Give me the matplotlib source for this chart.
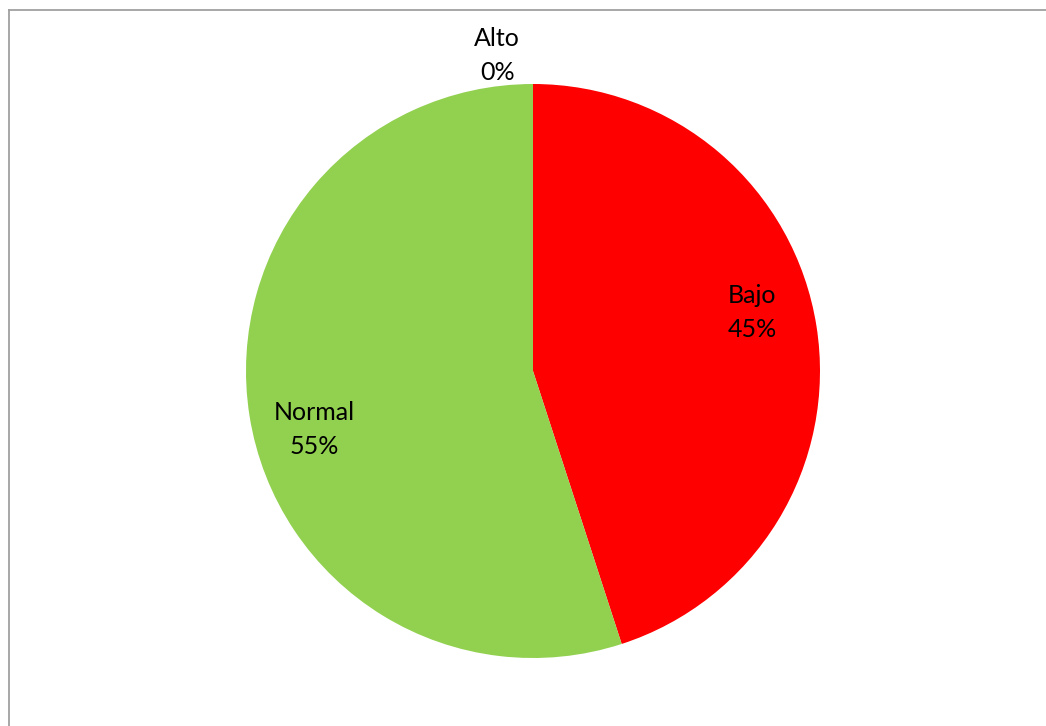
import numpy as np
import matplotlib
matplotlib.use('Agg')
from matplotlib import pyplot as plt
from matplotlib.lines import Line2D

labels = ['Bajo', 'Normal', 'Alto']
values = [45, 55, 0]
colors = ['#FF0000', '#92D050', '#4F81BD']

plt.rcParams['font.family'] = ['Lato', 'DejaVu Sans']

W, H = 1046, 726
fig = plt.figure(figsize=(W / 100, H / 100), dpi=100)
cx, cy, r = 533, 371, 287
ax = fig.add_axes([(cx - r) / W, (H - cy - r) / H, 2 * r / W, 2 * r / H])

wedges, _ = ax.pie(values, colors=colors, startangle=90, counterclock=False,
                   radius=1, wedgeprops=dict(linewidth=0))
ax.set_xlim(-1, 1)
ax.set_ylim(-1, 1)
ax.set_aspect('equal')
ax.axis('off')

total = sum(values)
for w, lab, v in zip(wedges, labels, values):
    txt = '{}\n{:.0f}%'.format(lab, 100 * v / total)
    if v == 0:
        ang = np.deg2rad(w.theta1)
        ax.text(np.cos(ang) - 0.125, np.sin(ang) * 1.1, txt, ha='center', va='center',
                fontsize=18, linespacing=1.55)
    else:
        ang = np.deg2rad((w.theta1 + w.theta2) / 2 + 6)
        d = 0.79
        ax.text(d * np.cos(ang), d * np.sin(ang), txt, ha='center', va='center',
                fontsize=18, linespacing=1.55)

# chart area border (top and left edges visible)
fig.add_artist(Line2D([8.5 / W, 8.5 / W], [0, 1 - 9.5 / H], transform=fig.transFigure,
                      color='#A0A0A0', linewidth=1.3))
fig.add_artist(Line2D([8.5 / W, 1], [1 - 9.5 / H, 1 - 9.5 / H], transform=fig.transFigure,
                      color='#A0A0A0', linewidth=1.3))

fig.savefig('out.png', dpi=100)
